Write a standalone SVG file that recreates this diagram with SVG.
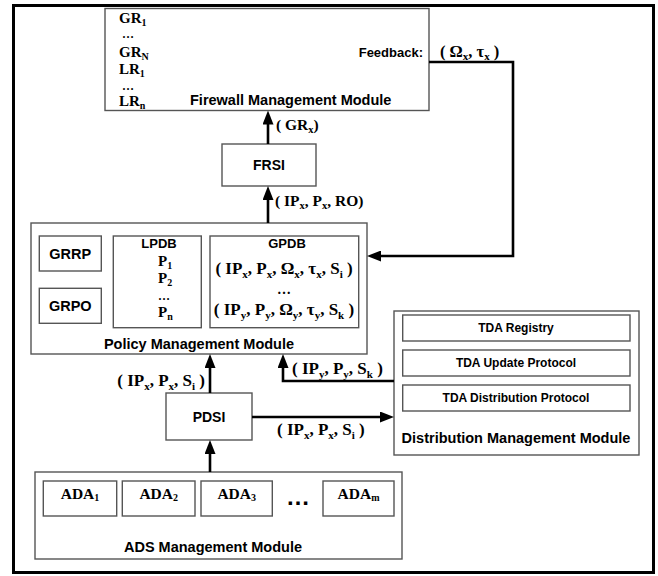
<svg xmlns="http://www.w3.org/2000/svg" width="658" height="576" viewBox="0 0 658 576">
  <style>
    .box { fill: #fff; stroke: #555; stroke-width: 1.4; }
    .frame { fill: #fff; stroke: #000; stroke-width: 3; }
    .ar { font-family: "Liberation Sans", Arial, sans-serif; font-weight: bold; fill: #000; }
    .tm { font-family: "Liberation Serif", "Times New Roman", serif; font-weight: bold; fill: #000; }
    .mod { font-size: 14.5px; }
    .c { text-anchor: middle; }
    .conn { fill: none; stroke: #000; stroke-width: 2.6; }
  </style>
  <defs>
    <marker id="arrow" markerUnits="userSpaceOnUse" markerWidth="14" markerHeight="11" refX="4" refY="5.5" orient="auto">
      <path d="M0,0 L14,5.5 L0,11 z" fill="#000"/>
    </marker>
  </defs>

  <rect class="frame" x="13.5" y="5.5" width="640" height="567"/>

  <!-- Firewall Management Module -->
  <g id="firewall-management-module">
    <rect class="box" x="105" y="8.5" width="324" height="102"/>
    <text class="tm" font-size="15" x="119" y="23">GR<tspan font-size="10" dy="3">1</tspan></text>
    <text class="tm" font-size="12" x="122" y="38">…</text>
    <text class="tm" font-size="15" x="119" y="57">GR<tspan font-size="10" dy="3">N</tspan></text>
    <text class="tm" font-size="15" x="119" y="74">LR<tspan font-size="10" dy="3">1</tspan></text>
    <text class="tm" font-size="12" x="122" y="90">…</text>
    <text class="tm" font-size="15" x="119" y="106">LR<tspan font-size="10" dy="3">n</tspan></text>
    <text class="ar mod" x="190" y="105">Firewall Management Module</text>
    <text class="ar" font-size="13" x="423" y="57" text-anchor="end">Feedback:</text>
  </g>

  <!-- FRSI -->
  <g id="frsi">
    <rect class="box" x="222" y="144" width="94" height="42"/>
    <text class="ar c" font-size="14" x="269" y="170">FRSI</text>
  </g>

  <!-- Policy Management Module -->
  <g id="policy-management-module">
    <rect class="box" x="31" y="223" width="336" height="131"/>
    <g id="grrp">
      <rect class="box" x="39.3" y="236" width="62" height="35"/>
      <text class="ar mod c" x="70.3" y="258.7">GRRP</text>
    </g>
    <g id="grpo">
      <rect class="box" x="39.3" y="288.3" width="62" height="35"/>
      <text class="ar mod c" x="70.3" y="311">GRPO</text>
    </g>
    <g id="lpdb">
      <rect class="box" x="113.3" y="236" width="88" height="91.7"/>
      <text class="ar c" font-size="13" x="159" y="248">LPDB</text>
      <text class="tm" font-size="15" x="158" y="266">P<tspan font-size="10" dy="3">1</tspan></text>
      <text class="tm" font-size="15" x="158" y="283">P<tspan font-size="10" dy="3">2</tspan></text>
      <text class="tm" font-size="12" x="158" y="300">…</text>
      <text class="tm" font-size="15" x="158" y="317">P<tspan font-size="10" dy="3">n</tspan></text>
    </g>
    <g id="gpdb">
      <rect class="box" x="210" y="236" width="148.7" height="91.7"/>
      <text class="ar c" font-size="13" x="287" y="248">GPDB</text>
      <text class="tm c" font-size="17" x="284" y="274">( IP<tspan font-size="11" dy="4">x</tspan><tspan dy="-4">, P</tspan><tspan font-size="11" dy="4">x</tspan><tspan dy="-4">, Ω</tspan><tspan font-size="11" dy="4">x</tspan><tspan dy="-4">, τ</tspan><tspan font-size="11" dy="4">x</tspan><tspan dy="-4">, S</tspan><tspan font-size="11" dy="4">i</tspan><tspan dy="-4"> )</tspan></text>
      <text class="tm c" font-size="14" x="284" y="294">…</text>
      <text class="tm c" font-size="17" x="284" y="315">( IP<tspan font-size="11" dy="4">y</tspan><tspan dy="-4">, P</tspan><tspan font-size="11" dy="4">y</tspan><tspan dy="-4">, Ω</tspan><tspan font-size="11" dy="4">y</tspan><tspan dy="-4">, τ</tspan><tspan font-size="11" dy="4">y</tspan><tspan dy="-4">, S</tspan><tspan font-size="11" dy="4">k</tspan><tspan dy="-4"> )</tspan></text>
    </g>
    <text class="ar mod c" x="199" y="349">Policy Management Module</text>
  </g>

  <!-- PDSI -->
  <g id="pdsi">
    <rect class="box" x="166" y="393" width="86" height="47"/>
    <text class="ar c" font-size="14" x="209" y="421.5">PDSI</text>
  </g>

  <!-- Distribution Management Module -->
  <g id="distribution-management-module">
    <rect class="box" x="394" y="311" width="245" height="144"/>
    <g id="tda-registry">
      <rect class="box" x="402.7" y="315" width="227.3" height="26"/>
      <text class="ar c" font-size="12" x="516" y="332.3">TDA Registry</text>
    </g>
    <g id="tda-update-protocol">
      <rect class="box" x="402.7" y="350" width="227.3" height="26"/>
      <text class="ar c" font-size="12" x="516" y="367.3">TDA Update Protocol</text>
    </g>
    <g id="tda-distribution-protocol">
      <rect class="box" x="402.7" y="385" width="227.3" height="26"/>
      <text class="ar c" font-size="12" x="516" y="402.3">TDA Distribution Protocol</text>
    </g>
    <text class="ar mod c" x="516" y="443">Distribution Management Module</text>
  </g>

  <!-- ADS Management Module -->
  <g id="ads-management-module">
    <rect class="box" x="35" y="472" width="367" height="87"/>
    <g id="ada-1">
      <rect class="box" x="43.3" y="481" width="73.4" height="35"/>
      <text class="tm c" font-size="15.5" x="80" y="499">ADA<tspan font-size="10" dy="2">1</tspan></text>
    </g>
    <g id="ada-2">
      <rect class="box" x="122.3" y="481" width="72.7" height="35"/>
      <text class="tm c" font-size="15.5" x="158.7" y="499">ADA<tspan font-size="10" dy="2">2</tspan></text>
    </g>
    <g id="ada-3">
      <rect class="box" x="201" y="481" width="71.3" height="35"/>
      <text class="tm c" font-size="15.5" x="236.7" y="499">ADA<tspan font-size="10" dy="2">3</tspan></text>
    </g>
    <text class="ar" font-size="24" x="286" y="505">…</text>
    <g id="ada-m">
      <rect class="box" x="323" y="481" width="71" height="35"/>
      <text class="tm c" font-size="15.5" x="358.5" y="499">ADA<tspan font-size="10" dy="2">m</tspan></text>
    </g>
    <text class="ar mod c" x="213" y="551.5">ADS Management Module</text>
  </g>

  <!-- Connectors and their labels -->
  <g id="connectors">
    <line class="conn" x1="268" y1="144" x2="268" y2="120.5" marker-end="url(#arrow)"/>
    <line class="conn" x1="268" y1="223" x2="268" y2="196" marker-end="url(#arrow)"/>
    <path class="conn" d="M429,62 H513 V256 H377" marker-end="url(#arrow)"/>
    <line class="conn" x1="210" y1="393" x2="210" y2="364" marker-end="url(#arrow)"/>
    <path class="conn" d="M394,381 H283 V364" marker-end="url(#arrow)"/>
    <line class="conn" x1="252" y1="417" x2="384" y2="417" marker-end="url(#arrow)"/>
    <line class="conn" x1="210" y1="472" x2="210" y2="450" marker-end="url(#arrow)"/>

    <text class="tm" font-size="15.5" x="276" y="130">( GR<tspan font-size="10.5" dy="3">x</tspan><tspan dy="-3">)</tspan></text>
    <text class="tm" font-size="15.5" x="275" y="206">( IP<tspan font-size="10.5" dy="3">x</tspan><tspan dy="-3">, P</tspan><tspan font-size="10.5" dy="3">x</tspan><tspan dy="-3">, RO)</tspan></text>
    <text class="tm" font-size="16.5" x="440" y="57">( Ω<tspan font-size="11" dy="3">x</tspan><tspan dy="-3">, τ</tspan><tspan font-size="11" dy="3">x</tspan><tspan dy="-3"> )</tspan></text>
    <text class="tm" font-size="17" x="205" y="386" text-anchor="end">( IP<tspan font-size="11" dy="4">x</tspan><tspan dy="-4">, P</tspan><tspan font-size="11" dy="4">x</tspan><tspan dy="-4">, S</tspan><tspan font-size="11" dy="4">i</tspan><tspan dy="-4"> )</tspan></text>
    <text class="tm" font-size="17" x="292" y="374">( IP<tspan font-size="11" dy="4">y</tspan><tspan dy="-4">, P</tspan><tspan font-size="11" dy="4">y</tspan><tspan dy="-4">, S</tspan><tspan font-size="11" dy="4">k</tspan><tspan dy="-4"> )</tspan></text>
    <text class="tm" font-size="17" x="277" y="435">( IP<tspan font-size="11" dy="4">x</tspan><tspan dy="-4">, P</tspan><tspan font-size="11" dy="4">x</tspan><tspan dy="-4">, S</tspan><tspan font-size="11" dy="4">i</tspan><tspan dy="-4"> )</tspan></text>
  </g>
</svg>
